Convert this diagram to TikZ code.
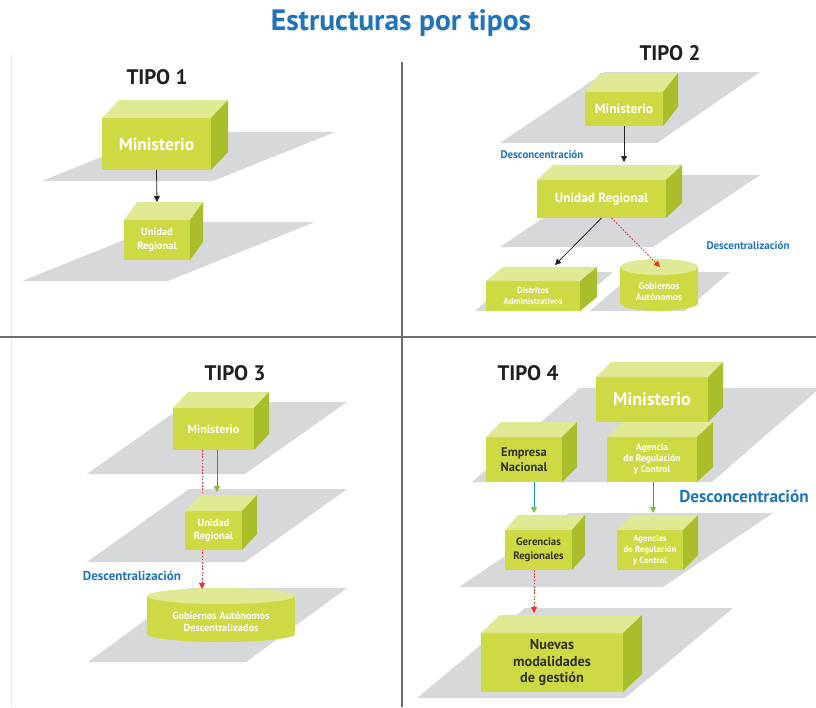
\documentclass[tikz,border=0pt]{standalone}
\usepackage{fontspec}
\setmainfont{PT Sans}
\usetikzlibrary{arrows.meta,calc}
\definecolor{limef}{HTML}{CDDA44}
\definecolor{limet}{HTML}{E0E993}
\definecolor{limes}{HTML}{AABD2A}
\definecolor{plano}{HTML}{D7D8DA}
\definecolor{azul}{HTML}{1F74BA}
\definecolor{rojo}{HTML}{E8322B}
\definecolor{verde}{HTML}{8DB83A}
\definecolor{oscuro}{HTML}{231F20}
\definecolor{txtosc}{HTML}{33331F}
\definecolor{divis}{HTML}{6D6E71}
\definecolor{marco}{HTML}{ECECEC}
\tikzset{
  cfront/.style={fill=limef, inner sep=0pt, outer sep=0pt, align=center, text=white},
  ctop/.style={fill=limet},
  cside/.style={fill=limes},
  plane/.style={fill=plano},
  divider/.style={draw=divis, line width=1.5pt},
  tipo/.style={font=\fontsize{21}{21}\selectfont\bfseries, text=oscuro, inner sep=0pt},
  lab/.style={text=azul, inner sep=0pt},
  negra/.style={draw=black!85, line width=0.8pt, -{Triangle[length=6pt,width=6pt]}},
  roja/.style={draw=rojo, line width=0.9pt, dash pattern=on 1.6pt off 1.6pt, -{Triangle[length=6pt,width=6pt]}},
  azulv/.style={draw=azul!80!cyan, line width=0.9pt, -{Triangle[length=6pt,width=6pt,color=verde]}},
}
% #1 name, #2 left, #3 top, #4 right, #5 bottom, #6 dx, #7 dy, #8 font/text options, #9 text
\newcommand\cubo[9]{%
  \node[cfront, minimum width={#4-#2}, minimum height={#5-#3}, #8] (#1) at ({(#2+#4)/2},{(#3+#5)/2}) {#9};
  \fill[ctop] (#1.north west) -- ++(#6,#7) -- ++({#4-#2},0) -- (#1.north east) -- cycle;
  \fill[cside] (#1.north east) -- ++(#6,#7) -- ++(0,{#5-#3}) -- (#1.south east) -- cycle;
}
% #1 name, #2 cx, #3 top cy, #4 bottom cy, #5 rx, #6 ry, #7 font, #8 text
\newcommand\cilindro[8]{%
  \fill[limef] (#2,#4) ellipse [x radius=#5, y radius=#6];
  \fill[limef] ({#2-#5},#3) rectangle ({#2+#5},#4);
  \fill[limet] (#2,#3) ellipse [x radius=#5, y radius=#6];
  \node[inner sep=0pt, align=center, text=white, #7] (#1) at (#2,{(#3+#4)/2+#6/2+3}) {#8};
}
\begin{document}
\begin{tikzpicture}[x=1pt,y=-1pt]
\useasboundingbox (0,0) rectangle (816,707);
\fill[white] (0,0) rectangle (816,707);
\draw[marco, line width=0.8pt] (11,52) -- (11,707);

\node[font=\fontsize{29.5}{30}\selectfont\bfseries, text=azul] (titulo) at (401,23) {Estructuras por tipos};
\draw[divider] (402,62) -- (402,707);
\draw[divider] (0,337) -- (816,337);

% ---------------- TIPO 1
\node[tipo] (t1) at (157,77) {TIPO 1};
\fill[plane] (42,181) -- (213,181) -- (335,132) -- (163,132) -- cycle;
\fill[plane] (22,281) -- (168,281) -- (315,222) -- (169,222) -- cycle;
\cubo{m1}{102}{118}{211}{170}{17}{-18}{font=\fontsize{17.5}{19}\selectfont\bfseries}{Ministerio}
\cubo{u1}{124}{220}{190}{260}{13}{-18}{font=\fontsize{10.5}{14}\selectfont\bfseries}{Unidad\\Regional}
\coordinate (u1t) at (157,202);
\draw[negra] (m1.south) -- (u1t);

% ---------------- TIPO 2
\node[tipo] (t2) at (670,53) {TIPO 2};
\fill[plane] (500,143) -- (657,143) -- (760,72) -- (605,72) -- cycle;
\fill[plane] (500,247) -- (653,247) -- (760,175) -- (607,175) -- cycle;
\fill[plane] (475,311) -- (568,311) -- (613,272) -- (520,272) -- cycle;
\fill[plane] (590,311) -- (685,311) -- (730,272) -- (635,272) -- cycle;
\cubo{m2}{585}{92}{663}{126}{15}{-19}{font=\fontsize{13.5}{15}\selectfont\bfseries}{Ministerio}
\cubo{u2}{537}{180}{666}{218}{16}{-15}{font=\fontsize{13.3}{15}\selectfont\bfseries}{Unidad Regional}
\cubo{d2}{486}{281}{580}{311}{17}{-14}{font=\fontsize{8.8}{11}\selectfont\bfseries}{Distritos\\Administrativos}
\cilindro{g2}{659}{267}{303}{39}{8}{font=\fontsize{9.5}{11}\selectfont\bfseries}{Gobiernos\\Autónomos}
\coordinate (u2t) at (624,162);
\draw[negra] (m2.south) -- (u2t);
\coordinate (d2t) at (555,265);
\coordinate (g2t) at (660,267);
\draw[negra] (u2.south) -- (d2t);
\draw[roja] ($(u2.south)+(10,0)$) -- (g2t);
\node[lab, font=\fontsize{11}{12}\selectfont\bfseries] (dc2) at (542,155) {Desconcentración};
\node[lab, font=\fontsize{11}{12}\selectfont\bfseries] (de2) at (748,246) {Descentralización};

% ---------------- TIPO 3
\node[tipo] (t3) at (235,373) {TIPO 3};
\fill[plane] (87,474) -- (245,474) -- (347,402) -- (189,402) -- cycle;
\fill[plane] (87,562) -- (245,562) -- (347,489) -- (189,489) -- cycle;
\fill[plane] (88,662) -- (246,662) -- (347,588) -- (189,588) -- cycle;
\cubo{m3}{173}{408}{254}{450}{15}{-16}{font=\fontsize{12}{13}\selectfont\bfseries}{Ministerio}
\cilindro{g3}{221}{596}{634}{74}{8}{font=\fontsize{10.3}{12.5}\selectfont\bfseries}{Gobiernos Autónomos\\Descentralizados}
\coordinate (m3r) at (202,450);
\coordinate (g3t) at (202,589);
\draw[roja] (m3r) -- (g3t);
\cubo{u3}{185}{511}{242}{550}{15}{-16}{font=\fontsize{10.5}{13}\selectfont\bfseries}{Unidad\\Regional}
\coordinate (m3b) at (217,450);
\coordinate (u3t) at (217,492);
\draw[azulv] (m3b) -- (u3t);
\node[lab, font=\fontsize{13}{14}\selectfont\bfseries] (de3) at (132,576) {Descentralización};

% ---------------- TIPO 4
\node[tipo] (t4) at (528,373) {TIPO 4};
\fill[plane] (472,482) -- (712,482) -- (820,388) -- (580,388) -- cycle;
\fill[plane] (459,587) -- (663,587) -- (773,513) -- (569,513) -- cycle;
\fill[plane] (417,698) -- (625,698) -- (733,608) -- (525,608) -- cycle;
\cubo{m4}{596}{377}{708}{422}{15}{-15}{font=\fontsize{18}{19}\selectfont\bfseries}{Ministerio}
\cubo{e4}{486}{437}{562}{482}{15}{-15}{font=\fontsize{12.5}{15}\selectfont\bfseries, text=txtosc}{Empresa\\Nacional}
\cubo{a4}{607}{437}{697}{482}{16}{-15}{font=\fontsize{9.5}{11}\selectfont\bfseries}{Agencia\\de Regulación\\y Control}
\cubo{g4}{505}{530}{572}{570}{13}{-15}{font=\fontsize{10.8}{14}\selectfont\bfseries, text=txtosc}{Gerencias\\Regionales}
\cubo{ag4}{617}{530}{683}{570}{15}{-15}{font=\fontsize{8.8}{11}\selectfont\bfseries}{Agencias\\de Regulación\\y Control}
\cubo{n4}{481}{633}{623}{692}{19}{-18}{font=\fontsize{14.3}{16.5}\selectfont\bfseries, text=txtosc}{Nuevas\\modalidades\\de gestión}
\coordinate (e4b) at (534,482);
\coordinate (g4t) at (534,513);
\coordinate (a4b) at (653,482);
\coordinate (ag4t) at (653,513);
\coordinate (g4b) at (534,570);
\coordinate (n4t) at (534,613);
\draw[azulv] (e4b) -- (g4t);
\draw[azulv] (a4b) -- (ag4t);
\draw[roja] (g4b) -- (n4t);
\node[lab, font=\fontsize{17.2}{18}\selectfont\bfseries] (dc4) at (744,496) {Desconcentración};
\end{tikzpicture}
\end{document}
